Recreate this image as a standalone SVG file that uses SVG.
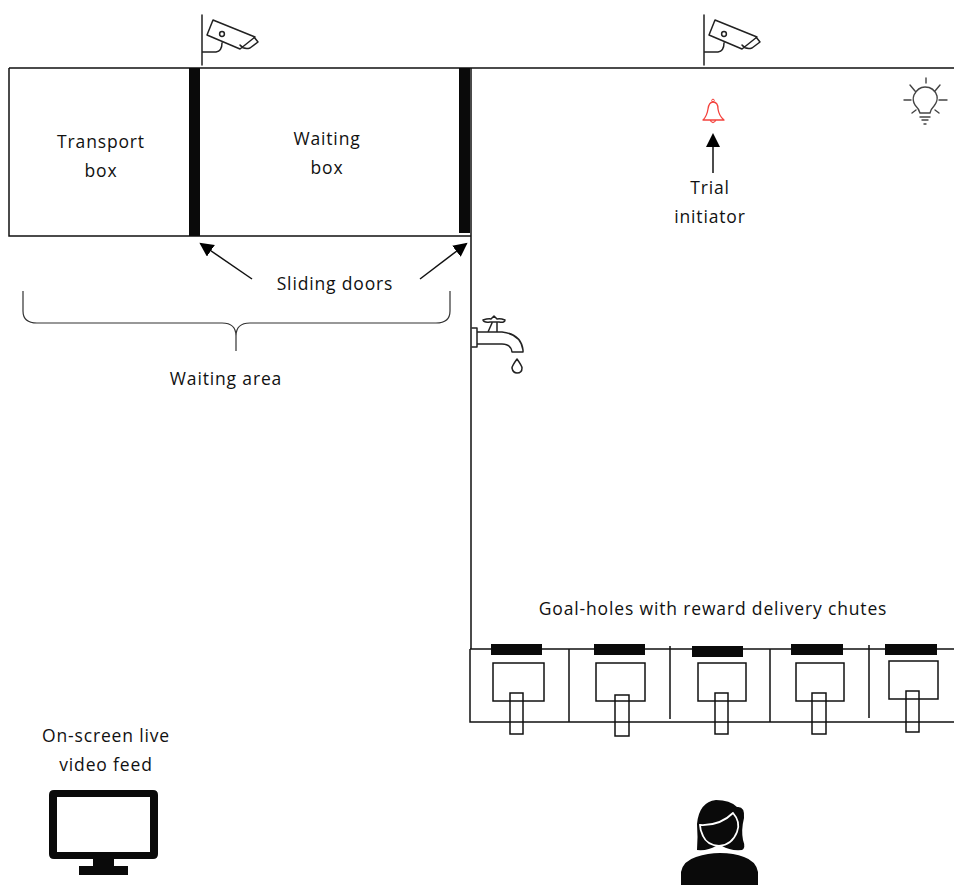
<svg xmlns="http://www.w3.org/2000/svg" width="954" height="885" viewBox="0 0 954 885">
<style>
.l{fill:none;stroke:#111;stroke-width:1.5}
.t{font-family:"Open Sans","Noto Sans","Liberation Sans",sans-serif;font-size:17.5px;letter-spacing:.85px;fill:#111;text-anchor:middle}
.k{fill:#0a0a0a}
.i{fill:none;stroke:#222;stroke-width:1.5;stroke-linejoin:round;stroke-linecap:round}
</style>
<defs>
<marker id="a" markerWidth="16" markerHeight="16" refX="12" refY="7" orient="auto" markerUnits="userSpaceOnUse"><path d="M0 0L14 7L0 14Z" fill="#000"/></marker>
<g id="cam"><path class="i" d="M0 15V65M0 52H14Q20 51 20 43M11 20L53 37L38 49L5 35ZM38 45Q42 50 48 48L56 42L52 37"/><circle cx="20" cy="34" r="2.4" class="i"/></g>
</defs>
<g id="connectors">
<path class="l" d="M9 68H954M9 68V236H471M471 68V649"/>
<path class="l" d="M252 279L201 244" marker-end="url(#a)"/>
<path class="l" d="M420 279L466 244" marker-end="url(#a)"/>
<path class="l" d="M713 173V135" marker-end="url(#a)"/>
<path fill="none" stroke="#333" stroke-width="1.2" d="M23 291V311Q23 323 37 323H222Q236 323 236 336V351V336Q236 323 250 323H436Q450 323 450 311V291"/>
</g>
<g id="door1"><rect class="k" x="189" y="68" width="11" height="168"/></g>
<g id="door2"><rect class="k" x="459" y="68" width="11" height="165"/></g>
<g id="transport-box"><text class="t" x="101" y="148">Transport</text><text class="t" x="101" y="177">box</text></g>
<g id="waiting-box"><text class="t" x="327" y="145">Waiting</text><text class="t" x="327" y="174">box</text></g>
<g id="sliding-doors"><text class="t" x="335" y="290">Sliding doors</text></g>
<g id="waiting-area"><text class="t" x="226" y="385">Waiting area</text></g>
<g id="camera1"><use href="#cam" x="202"/></g>
<g id="camera2"><use href="#cam" x="704"/></g>
<g id="bell"><path fill="none" stroke="#f4413c" stroke-width="1.3" stroke-linejoin="round" d="M703 120Q707 116 708 109Q709 102 713 102Q718 102 718 109Q719 116 724 120ZM710 120Q713 125 716 120"/><circle cx="713" cy="100.500" r="1.300" fill="none" stroke="#f4413c" stroke-width="1"/></g>
<g id="trial-initiator"><text class="t" x="710" y="194">Trial</text><text class="t" x="710" y="223">initiator</text></g>
<g id="bulb"><path fill="none" stroke="#444" stroke-width="1.400" stroke-linecap="round" stroke-linejoin="round" d="M920 113Q919 109 915 105Q912 100 914 95Q918 87 925 87Q934 87 937 96Q938 101 934 106Q931 109 930 113ZM920 117H930M922 120H928M924 124H926M926 78V83M910 85L915 91M940 85L935 91M904 100H911M939 100H947M912 113L916 110M939 113L935 110"/></g>
<g id="tap"><path class="i" d="M472 328H477V347H472M477 332H488L492 323M497 323V332H502Q521 334 523 350V352H512Q511 344 502 344H477M497 332H488M483 320Q489 318 491 319L494 316L497 319Q500 318 505 320Q505 323 499 322H490Q484 323 483 320ZM517 359Q512 366 512 368Q513 373 517 373Q522 373 522 368Q522 366 517 359Z"/></g>
<g id="goal-label"><text class="t" x="713" y="615">Goal-holes with reward delivery chutes</text></g>
<g id="goal-frame"><path class="l" d="M470 649H954M470 649V722H954M569 649V722M670 646V719M770 649V722M869 645V718"/></g>
<g id="goal1"><rect class="k" x="491" y="644" width="51" height="11"/><rect class="l" x="493" y="663" width="51" height="38"/><rect class="l" x="510" y="693" width="13" height="41"/></g>
<g id="goal2"><rect class="k" x="594" y="644" width="51" height="11"/><rect class="l" x="596" y="663" width="49" height="38"/><rect class="l" x="615" y="695" width="14" height="41"/></g>
<g id="goal3"><rect class="k" x="692" y="646" width="51" height="11"/><rect class="l" x="698" y="663" width="48" height="38"/><rect class="l" x="715" y="693" width="13" height="41"/></g>
<g id="goal4"><rect class="k" x="791" y="644" width="52" height="11"/><rect class="l" x="796" y="663" width="48" height="38"/><rect class="l" x="812" y="693" width="14" height="41"/></g>
<g id="goal5"><rect class="k" x="885" y="644" width="52" height="11"/><rect class="l" x="889" y="661" width="49" height="38"/><rect class="l" x="906" y="691" width="13" height="41"/></g>
<g id="video-feed"><text class="t" x="106" y="742">On-screen live</text><text class="t" x="106" y="771">video feed</text></g>
<g id="monitor"><path class="k" fill-rule="evenodd" d="M54 790H153Q158 790 158 795V854Q158 859 153 859H114V866H128V875H79V866H93V859H54Q49 859 49 854V795Q49 790 54 790ZM57 797V852H150V797Z"/></g>
<g id="person"><path class="k" d="M681 885V872Q683 861 696 857Q708 853 720 853Q734 853 744 857Q756 861 758 872V885Z"/>
<path class="k" d="M697 850Q698 836 697 824Q699 802 716 800Q730 800 737 807Q745 806 744 818Q741 830 743 840Q746 848 742 850Q730 851 722 846H716Q708 851 697 850Z"/>
<path fill="none" stroke="#fff" stroke-width="1.800" d="M700 825Q720 826 733 813Q741 822 737 832Q732 845 719 846Q707 845 703 836Q700 830 700 825Z"/></g>
</svg>
